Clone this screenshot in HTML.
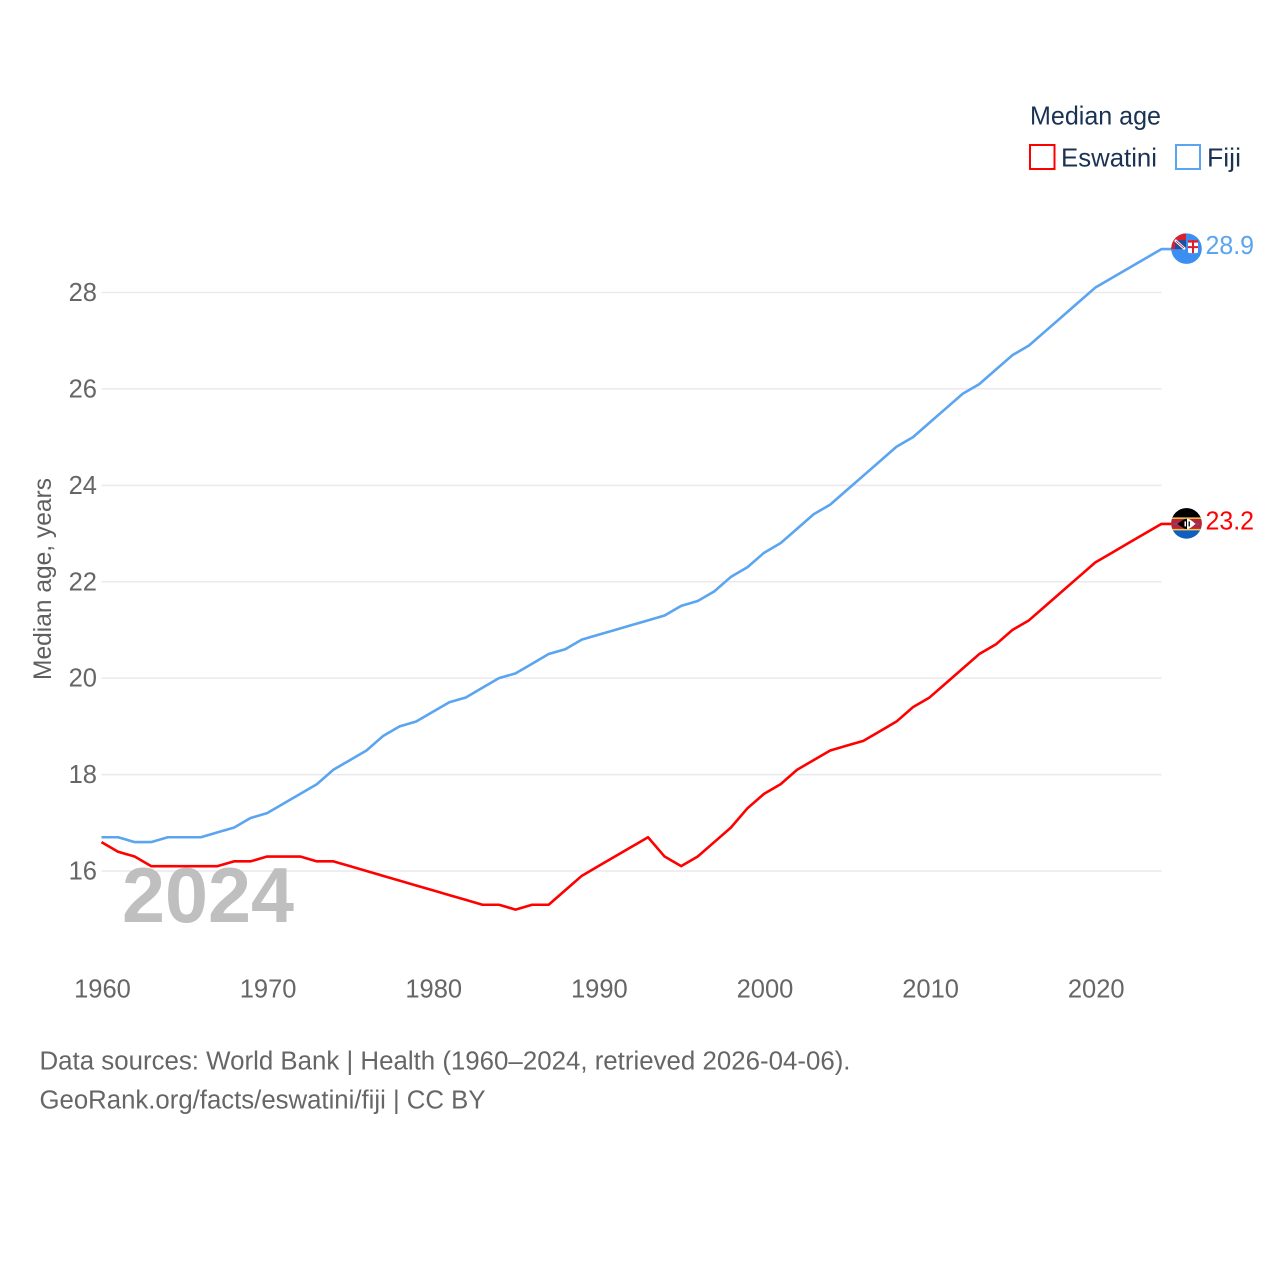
<!DOCTYPE html>
<html lang="en">
<head>
<meta charset="utf-8">
<title>Median age: Eswatini and Fiji</title>
<style>
html,body{margin:0;padding:0;background:#fff;width:1280px;height:1280px;overflow:hidden}
svg{display:block}
text{font-family:"Liberation Sans",sans-serif}
</style>
</head>
<body>
<svg id="chart" width="1280" height="1280" viewBox="0 0 1280 1280" xmlns="http://www.w3.org/2000/svg">
<defs>
<clipPath id="fiji-clip"><circle cx="0.5" cy="-0.5" r="15.3"/></clipPath>
<clipPath id="esw-clip"><circle cx="0.5" cy="-0.5" r="15.3"/></clipPath>
</defs>
<rect width="1280" height="1280" fill="#fff"/>
<g id="grid"></g>
<g id="yticks"></g>
<g id="xticks"></g>
<text transform="translate(51,680) rotate(-90)" font-size="25" fill="#5f5f5f" textLength="202" lengthAdjust="spacingAndGlyphs">Median age, years</text>
<text x="122" y="922" font-size="78" font-weight="bold" fill="#bfbfbf" textLength="172" lengthAdjust="spacingAndGlyphs">2024</text>
<g id="series"></g>

<g id="flag-eswatini">
<g clip-path="url(#esw-clip)">
<rect x="-16" y="-16" width="33" height="32" fill="#0f5fc0"/>
<rect x="-16" y="-16" width="33" height="10" fill="#000"/>
<rect x="-16" y="-6.5" width="33" height="13" fill="#f5c842"/>
<rect x="-16" y="-5" width="33" height="10" fill="#b8243c"/>
<path d="M-8.5 0 Q-1 -6 1 -5 L1 5 Q-1 6 -8.5 0 Z" fill="#000"/>
<path d="M9.5 0 Q3 -6 1 -5 L1 5 Q3 6 9.5 0 Z" fill="#fff"/>
<rect x="-1.5" y="-2.5" width="1.5" height="5" fill="#fff"/>
<rect x="2.5" y="-2.5" width="1.5" height="5" fill="#222"/>
<rect x="-12" y="-0.6" width="3.5" height="1.2" fill="#2a6fc0"/>
<rect x="9.5" y="-0.6" width="3.5" height="1.2" fill="#2a6fc0"/>
</g>
</g>
<g id="flag-fiji">
<g clip-path="url(#fiji-clip)">
<rect x="-16" y="-16" width="33" height="32" fill="#3a8ff0"/>
<rect x="-15" y="-16" width="15" height="16" fill="#d8202f"/>
<rect x="-11" y="-9" width="11" height="9" fill="#1f4fa0"/>
<path d="M-11 -9 L-1 0" stroke="#fff" stroke-width="2.6"/>
<path d="M-10 -8 L-2 -1" stroke="#d8202f" stroke-width="0.8"/>
<rect x="2" y="-9" width="10" height="13" rx="1.5" fill="#fff"/>
<rect x="6" y="-9" width="2" height="13" fill="#d8202f"/>
<rect x="2" y="-3" width="10" height="2" fill="#d8202f"/>
<rect x="2" y="-9" width="10" height="2.5" fill="#d8202f"/>
</g>
</g>
<text id="label-fiji" x="1205.5" font-size="25.5" fill="#5ba4f0" textLength="48.5" lengthAdjust="spacingAndGlyphs"></text>
<text id="label-eswatini" x="1205.5" font-size="25.5" fill="#ff0000" textLength="48.5" lengthAdjust="spacingAndGlyphs"></text>

<g>
<text x="1030" y="124.5" font-size="26" fill="#1a3353" textLength="131" lengthAdjust="spacingAndGlyphs">Median age</text>
<rect x="1030" y="145" width="24.5" height="24" fill="#fff" stroke="#ff0000" stroke-width="2"/>
<text x="1061" y="166.5" font-size="26" fill="#1a3353" textLength="96" lengthAdjust="spacingAndGlyphs">Eswatini</text>
<rect x="1176" y="145" width="24" height="24" fill="#fff" stroke="#5ba4f0" stroke-width="2"/>
<text x="1207" y="166.5" font-size="26" fill="#1a3353" textLength="34" lengthAdjust="spacingAndGlyphs">Fiji</text>
</g>

<text x="39.5" y="1069.5" font-size="25.5" fill="#666" textLength="811" lengthAdjust="spacingAndGlyphs">Data sources: World Bank | Health (1960–2024, retrieved 2026-04-06).</text>
<text x="39.5" y="1108.5" font-size="25.5" fill="#666" textLength="446" lengthAdjust="spacingAndGlyphs">GeoRank.org/facts/eswatini/fiji | CC BY</text>
</svg>
<script>
const years = [1960,1961,1962,1963,1964,1965,1966,1967,1968,1969,1970,1971,1972,1973,1974,1975,1976,1977,1978,1979,1980,1981,1982,1983,1984,1985,1986,1987,1988,1989,1990,1991,1992,1993,1994,1995,1996,1997,1998,1999,2000,2001,2002,2003,2004,2005,2006,2007,2008,2009,2010,2011,2012,2013,2014,2015,2016,2017,2018,2019,2020,2021,2022,2023,2024];
const fijiValues = [16.7,16.7,16.6,16.6,16.7,16.7,16.7,16.8,16.9,17.1,17.2,17.4,17.6,17.8,18.1,18.3,18.5,18.8,19.0,19.1,19.3,19.5,19.6,19.8,20.0,20.1,20.3,20.5,20.6,20.8,20.9,21.0,21.1,21.2,21.3,21.5,21.6,21.8,22.1,22.3,22.6,22.8,23.1,23.4,23.6,23.9,24.2,24.5,24.8,25.0,25.3,25.6,25.9,26.1,26.4,26.7,26.9,27.2,27.5,27.8,28.1,28.3,28.5,28.7,28.9];
const eswatiniValues = [16.6,16.4,16.3,16.1,16.1,16.1,16.1,16.1,16.2,16.2,16.3,16.3,16.3,16.2,16.2,16.1,16.0,15.9,15.8,15.7,15.6,15.5,15.4,15.3,15.3,15.2,15.3,15.3,15.6,15.9,16.1,16.3,16.5,16.7,16.3,16.1,16.3,16.6,16.9,17.3,17.6,17.8,18.1,18.3,18.5,18.6,18.7,18.9,19.1,19.4,19.6,19.9,20.2,20.5,20.7,21.0,21.2,21.5,21.8,22.1,22.4,22.6,22.8,23.0,23.2];
const yTickValues = [16,18,20,22,24,26,28];
const xTickValues = [1960,1970,1980,1990,2000,2010,2020];

const NS = 'http://www.w3.org/2000/svg';
function xScale(year){ return 101.5 + (year - 1960) * (1095.2 - 101.5) / 60; }
function yScale(v){ return 871 - (v - 16) * (871 - 292.5) / 12; }
const FLAG_X = 1186;

const grid = document.getElementById('grid');
const yticks = document.getElementById('yticks');
yTickValues.forEach(function(v){
  const l = document.createElementNS(NS,'line');
  
  
  l.setAttribute('x1', xScale(years[0]));
  l.setAttribute('x2', xScale(years[years.length-1]));
  l.setAttribute('y1', yScale(v));
  l.setAttribute('y2', yScale(v));
  l.setAttribute('stroke', '#e9e9ee');
  l.setAttribute('stroke-width', '1.5');
  grid.appendChild(l);
  const t = document.createElementNS(NS,'text');
  
  
  t.setAttribute('x', 97);
  t.setAttribute('y', yScale(v) + 8.5);
  t.setAttribute('text-anchor', 'end');
  t.setAttribute('font-size', '25.5');
  t.setAttribute('fill', '#666');
  t.textContent = v;
  yticks.appendChild(t);
});

const xticks = document.getElementById('xticks');
xTickValues.forEach(function(y){
  const t = document.createElementNS(NS,'text');
  
  
  t.setAttribute('x', xScale(y) + 1);
  t.setAttribute('y', 997.5);
  t.setAttribute('text-anchor', 'middle');
  t.setAttribute('font-size', '25.5');
  t.setAttribute('fill', '#666');
  t.textContent = y;
  xticks.appendChild(t);
});

function linePoints(values){
  const pts = values.map(function(v,i){ return xScale(years[i]).toFixed(2) + ',' + yScale(v).toFixed(2); });
  pts.push(FLAG_X + ',' + yScale(values[values.length-1]).toFixed(2));
  return pts.join(' ');
}
const series = document.getElementById('series');
const fijiLine = document.createElementNS(NS,'polyline');


fijiLine.setAttribute('points', linePoints(fijiValues));
fijiLine.setAttribute('fill', 'none');
fijiLine.setAttribute('stroke', '#5ba4f0');
fijiLine.setAttribute('stroke-width', '2.6');
fijiLine.setAttribute('stroke-linejoin', 'round');
series.appendChild(fijiLine);
const eswLine = document.createElementNS(NS,'polyline');


eswLine.setAttribute('points', linePoints(eswatiniValues));
eswLine.setAttribute('fill', 'none');
eswLine.setAttribute('stroke', '#ff0000');
eswLine.setAttribute('stroke-width', '2.6');
eswLine.setAttribute('stroke-linejoin', 'round');
series.appendChild(eswLine);

const fijiEnd = fijiValues[fijiValues.length-1];
const eswEnd = eswatiniValues[eswatiniValues.length-1];
document.getElementById('flag-fiji').setAttribute('transform','translate(' + FLAG_X + ',' + yScale(fijiEnd) + ')');
document.getElementById('flag-eswatini').setAttribute('transform','translate(' + FLAG_X + ',' + yScale(eswEnd) + ')');
const lf = document.getElementById('label-fiji');
lf.setAttribute('y', yScale(fijiEnd) + 5);
lf.textContent = fijiEnd.toFixed(1);
const le = document.getElementById('label-eswatini');
le.setAttribute('y', yScale(eswEnd) + 5.5);
le.textContent = eswEnd.toFixed(1);
</script>
</body>
</html>
